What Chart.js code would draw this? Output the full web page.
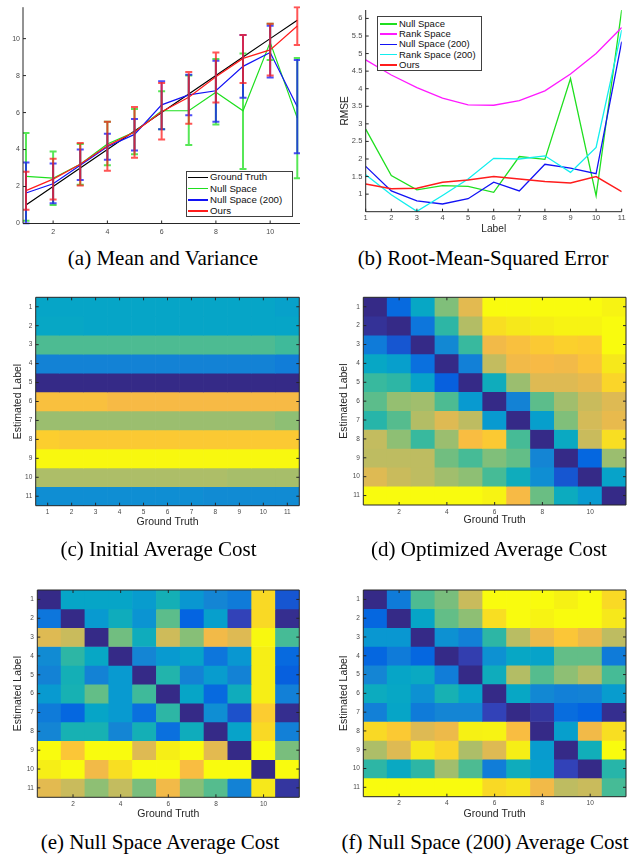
<!DOCTYPE html>
<html>
<head>
<meta charset="utf-8">
<title>Label estimation results</title>
<script src="https://cdn.jsdelivr.net/npm/chart.js@4.4.1/dist/chart.umd.min.js"></script>
<style>
  body { margin: 0; background: #fff; }
  #page { position: relative; width: 639px; height: 854px; overflow: hidden; font-family: "Liberation Sans", Arial, sans-serif; }
  canvas { position: absolute; }
  .caption { position: absolute; font-family: "Liberation Serif", "Times New Roman", serif; font-size: 21px; line-height: 21px; white-space: nowrap; color: #000; transform: translateX(-50%); }
  .legend { position: absolute; box-sizing: border-box; background: #fff; border: 1px solid #404040; color: #111; }
  .legend .item { position: absolute; white-space: nowrap; line-height: 1; transform: translateY(-50%); }
  .legend .swatch { position: absolute; height: 1.6px; }
</style>
</head>
<body>
<div id="page">
  <canvas id="chartA"></canvas>
  <canvas id="chartB"></canvas>
  <canvas id="chartC"></canvas>
  <canvas id="chartD"></canvas>
  <canvas id="chartE"></canvas>
  <canvas id="chartF"></canvas>

  <div class="legend" id="legendA" style="left:186px; top:171px; width:107px; height:46px; font-size:9.7px"></div>
  <div class="legend" id="legendB" style="left:377px; top:16px; width:105px; height:55px; font-size:9.5px"></div>

  <div class="caption" style="left:163px; top:247.7px">(a) Mean and Variance</div>
  <div class="caption" style="left:483px; top:247.7px">(b) Root-Mean-Squared Error</div>
  <div class="caption" style="left:158.5px; top:539.4px">(c) Initial Average Cost</div>
  <div class="caption" style="left:489px; top:539.4px">(d) Optimized Average Cost</div>
  <div class="caption" style="left:160px; top:832px">(e) Null Space Average Cost</div>
  <div class="caption" style="left:485px; top:832px">(f) Null Space (200) Average Cost</div>
</div>

<script>
// ---- data ----
const labels = [1, 2, 3, 4, 5, 6, 7, 8, 9, 10, 11];

// (a) mean and variance
const aXTicks = [2, 4, 6, 8, 10];
const aYTicks = [0, 2, 4, 6, 8, 10];
const groundTruth = [1, 2, 3, 4, 5, 6, 7, 8, 9, 10, 11];
const nullMean = [2.55, 2.45, 3.2, 4.3, 4.95, 6.1, 6.1, 7.1, 6.1, 9.8, 5.7];
const nullLow  = [0.15, 1.0, 2.1, 3.15, 3.75, 5.1, 4.25, 5.35, 2.95, 8.85, 2.45];
const nullHigh = [4.9, 3.9, 4.3, 5.5, 6.2, 7.15, 8.0, 8.9, 9.2, 10.8, 8.95];
const null200Mean = [1.65, 2.15, 3.15, 4.15, 4.82, 6.42, 6.96, 7.18, 8.5, 9.25, 6.32];
const null200Low  = [0.0, 1.1, 2.35, 3.45, 3.95, 5.1, 5.85, 5.5, 6.8, 7.9, 3.8];
const null200High = [3.3, 3.25, 4.0, 4.85, 5.65, 7.7, 8.05, 8.8, 10.2, 10.7, 8.85];
const oursMean = [1.78, 2.4, 3.2, 4.2, 4.95, 6.05, 6.83, 7.94, 8.93, 9.39, 10.68];
const oursLow  = [0.75, 1.3, 2.05, 2.85, 3.55, 4.55, 5.4, 6.55, 7.6, 8.0, 9.65];
const oursHigh = [2.8, 3.5, 4.35, 5.5, 6.3, 7.6, 8.2, 9.25, 10.2, 10.8, 11.7];

// (b) RMSE per label
const bYTicks = [1, 1.5, 2, 2.5, 3, 3.5, 4, 4.5, 5, 5.5, 6];
const rmseNull     = [2.85, 1.53, 1.12, 1.24, 1.22, 1.05, 2.07, 1.99, 4.29, 0.95, 6.24];
const rmseRank     = [4.82, 4.39, 4.03, 3.73, 3.54, 3.53, 3.66, 3.94, 4.42, 5.0, 5.74];
const rmseNull200  = [1.79, 1.09, 0.81, 0.72, 0.87, 1.34, 1.09, 1.85, 1.74, 1.58, 5.34];
const rmseRank200  = [1.55, 0.98, 0.51, 0.96, 1.43, 2.02, 2.0, 2.09, 1.62, 2.33, 5.67];
const rmseOurs     = [1.29, 1.15, 1.17, 1.34, 1.4, 1.5, 1.43, 1.36, 1.32, 1.5, 1.07];

// (c)-(f) normalised average cost, rows = estimated label, columns = ground truth
const heatXTicksAll = [1, 2, 3, 4, 5, 6, 7, 8, 9, 10, 11];
const heatXTicksEven = [2, 4, 6, 8, 10];
const heatYTicks = [1, 2, 3, 4, 5, 6, 7, 8, 9, 10, 11];

const costInitial = [
  [0.37, 0.37, 0.37, 0.37, 0.37, 0.37, 0.37, 0.37, 0.37, 0.37, 0.35],
  [0.38, 0.38, 0.37, 0.37, 0.37, 0.37, 0.37, 0.37, 0.37, 0.37, 0.37],
  [0.53, 0.53, 0.53, 0.53, 0.53, 0.53, 0.53, 0.53, 0.53, 0.53, 0.51],
  [0.24, 0.24, 0.24, 0.24, 0.24, 0.24, 0.24, 0.24, 0.24, 0.24, 0.22],
  [0.0, 0.0, 0.0, 0.0, 0.0, 0.0, 0.0, 0.0, 0.0, 0.0, 0.0],
  [0.83, 0.83, 0.83, 0.81, 0.81, 0.81, 0.81, 0.81, 0.81, 0.81, 0.81],
  [0.64, 0.64, 0.64, 0.64, 0.64, 0.64, 0.64, 0.64, 0.64, 0.64, 0.62],
  [0.875, 0.86, 0.86, 0.86, 0.86, 0.86, 0.86, 0.86, 0.86, 0.86, 0.86],
  [0.99, 0.99, 0.99, 0.99, 0.99, 0.99, 0.99, 0.99, 0.99, 0.99, 0.99],
  [0.67, 0.67, 0.67, 0.67, 0.67, 0.67, 0.67, 0.67, 0.66, 0.66, 0.66],
  [0.28, 0.28, 0.28, 0.28, 0.28, 0.28, 0.28, 0.27, 0.27, 0.27, 0.27]
];

const costOptimized = [
  [0.0, 0.15, 0.38, 0.6, 0.77, 1.0, 1.0, 1.0, 1.0, 1.0, 0.97],
  [0.02, 0.0, 0.19, 0.48, 0.68, 0.91, 0.93, 0.95, 0.97, 0.97, 1.0],
  [0.21, 0.1, 0.0, 0.26, 0.5, 0.8, 0.83, 0.86, 0.88, 0.87, 1.0],
  [0.38, 0.34, 0.17, 0.0, 0.23, 0.71, 0.8, 0.81, 0.8, 0.84, 0.93],
  [0.5, 0.48, 0.36, 0.12, 0.0, 0.41, 0.64, 0.76, 0.76, 0.78, 0.89],
  [0.55, 0.63, 0.65, 0.53, 0.32, 0.0, 0.24, 0.55, 0.65, 0.72, 0.76],
  [0.47, 0.54, 0.68, 0.76, 0.7, 0.32, 0.0, 0.34, 0.6, 0.74, 0.78],
  [0.71, 0.62, 0.5, 0.64, 0.82, 0.86, 0.52, 0.0, 0.39, 0.72, 0.91],
  [0.7, 0.7, 0.7, 0.58, 0.52, 0.6, 0.56, 0.25, 0.0, 0.14, 0.64],
  [0.76, 0.72, 0.7, 0.65, 0.62, 0.52, 0.41, 0.28, 0.1, 0.0, 0.36],
  [1.0, 1.0, 1.0, 1.0, 1.0, 0.97, 0.81, 0.57, 0.4, 0.32, 0.0]
];

const costNull = [
  [0.0, 0.37, 0.37, 0.37, 0.33, 0.43, 0.31, 0.25, 0.21, 0.9, 0.1],
  [0.19, 0.0, 0.32, 0.41, 0.3, 0.55, 0.13, 0.34, 0.06, 0.9, 0.01],
  [0.76, 0.72, 0.0, 0.58, 0.41, 0.73, 0.61, 0.8, 0.76, 0.99, 0.52],
  [0.27, 0.48, 0.38, 0.0, 0.25, 0.32, 0.36, 0.19, 0.31, 0.95, 0.15],
  [0.24, 0.43, 0.24, 0.32, 0.0, 0.46, 0.24, 0.33, 0.24, 0.95, 0.12],
  [0.32, 0.44, 0.56, 0.32, 0.51, 0.0, 0.37, 0.15, 0.41, 0.95, 0.23],
  [0.21, 0.14, 0.37, 0.32, 0.17, 0.48, 0.0, 0.28, 0.09, 0.87, 0.01],
  [0.25, 0.44, 0.44, 0.25, 0.43, 0.17, 0.41, 0.0, 0.36, 0.9, 0.23],
  [1.0, 0.85, 1.0, 1.0, 0.76, 0.95, 1.0, 0.77, 0.0, 1.0, 0.59],
  [0.95, 1.0, 0.8, 0.91, 1.0, 1.0, 0.82, 1.0, 1.0, 0.0, 1.0],
  [0.77, 0.72, 0.62, 0.71, 0.59, 0.8, 0.61, 0.54, 0.24, 0.93, 0.03]
];

const costNull200 = [
  [0.0, 0.21, 0.53, 0.59, 0.72, 1.0, 1.0, 1.0, 0.96, 1.0, 0.9],
  [0.14, 0.0, 0.37, 0.56, 0.62, 0.91, 1.0, 0.97, 1.0, 1.0, 0.93],
  [0.31, 0.31, 0.0, 0.29, 0.23, 0.48, 0.69, 0.79, 0.85, 0.79, 0.7],
  [0.14, 0.21, 0.14, 0.0, 0.05, 0.29, 0.38, 0.36, 0.56, 0.56, 0.21],
  [0.25, 0.37, 0.39, 0.22, 0.0, 0.41, 0.68, 0.54, 0.62, 0.68, 0.52],
  [0.4, 0.38, 0.29, 0.44, 0.36, 0.0, 0.38, 0.26, 0.23, 0.24, 0.33],
  [0.23, 0.37, 0.21, 0.25, 0.25, 0.06, 0.0, 0.03, 0.16, 0.13, 0.01],
  [0.9, 0.86, 0.76, 0.79, 0.96, 0.97, 0.82, 0.0, 0.34, 0.8, 0.91],
  [0.67, 0.76, 0.93, 0.89, 0.67, 0.76, 0.95, 0.33, 0.0, 0.42, 1.0],
  [0.48, 0.39, 0.48, 0.65, 0.53, 0.22, 0.41, 0.34, 0.06, 0.0, 0.47],
  [1.0, 1.0, 1.0, 1.0, 1.0, 0.9, 0.92, 0.8, 0.7, 0.72, 0.52]
];

// ---- styling ----
const green = '#1fdf1f', blue = '#1212f5', red = '#ff1c1c', magenta = '#ff1aff', cyan = '#12eeee';
const axisColor = '#262626', tickColor = '#4a4a4a';

// parula colour map (subsampled)
const parulaStops = [
  [0.2081, 0.1663, 0.5292], [0.1959, 0.2645, 0.7279], [0.0117, 0.3875, 0.8820],
  [0.0498, 0.4586, 0.8641], [0.0793, 0.5200, 0.8312], [0.0343, 0.5966, 0.8199],
  [0.0228, 0.6535, 0.7768], [0.0843, 0.6928, 0.7062], [0.2178, 0.7250, 0.6193],
  [0.3953, 0.7459, 0.5244], [0.5709, 0.7485, 0.4494], [0.7184, 0.7411, 0.3905],
  [0.8507, 0.7299, 0.3360], [0.9739, 0.7314, 0.2666], [0.9880, 0.8066, 0.1794],
  [0.9598, 0.9218, 0.0948], [0.9763, 0.9831, 0.0538]
];
function parula(t) {
  const n = parulaStops.length - 1;
  const p = Math.min(Math.max(t, 0), 1) * n;
  const i = Math.min(Math.floor(p), n - 1);
  const f = p - i;
  const c = parulaStops[i].map((v, k) => Math.round(255 * (v + (parulaStops[i + 1][k] - v) * f)));
  return 'rgb(' + c.join(',') + ')';
}

Chart.defaults.font.family = '"Liberation Sans", Arial, sans-serif';

// MATLAB style axes: inward ticks, box or just left/bottom spine
const matlabAxes = {
  id: 'matlabAxes',
  afterDraw(chart, args, opts) {
    const { ctx, chartArea: a, scales: { x, y } } = chart;
    const L = 3;
    ctx.save();
    ctx.strokeStyle = axisColor;
    ctx.lineWidth = 1;
    ctx.beginPath();
    if (opts.box) {
      ctx.rect(a.left, a.top, a.right - a.left, a.bottom - a.top);
    } else {
      ctx.moveTo(a.left, a.top);
      ctx.lineTo(a.left, a.bottom);
      ctx.lineTo(a.right, a.bottom);
    }
    x.ticks.forEach((t, i) => {
      if (t.label === '') return;
      const px = x.getPixelForTick(i);
      ctx.moveTo(px, a.bottom); ctx.lineTo(px, a.bottom - L);
      if (opts.box) { ctx.moveTo(px, a.top); ctx.lineTo(px, a.top + L); }
    });
    y.ticks.forEach((t, i) => {
      const py = y.getPixelForTick(i);
      ctx.moveTo(a.left, py); ctx.lineTo(a.left + L, py);
      if (opts.box) { ctx.moveTo(a.right, py); ctx.lineTo(a.right - L, py); }
    });
    ctx.stroke();
    ctx.restore();
  }
};

// vertical error bars with caps, read from errLow / errHigh on each dataset
const errorBars = {
  id: 'errorBars',
  afterDatasetsDraw(chart) {
    const { ctx, chartArea: a, scales: { x, y } } = chart;
    ctx.save();
    ctx.beginPath();
    ctx.rect(a.left, a.top - 1, a.right - a.left, a.bottom - a.top + 2);
    ctx.clip();
    chart.data.datasets.forEach(ds => {
      if (!ds.errLow) return;
      ctx.strokeStyle = ds.borderColor;
      ctx.globalAlpha = 0.75;
      ctx.lineWidth = 2;
      ds.errLow.forEach((lo, i) => {
        const px = x.getPixelForValue(labels[i]);
        const y0 = y.getPixelForValue(lo);
        const y1 = y.getPixelForValue(ds.errHigh[i]);
        ctx.beginPath();
        ctx.moveTo(px, y0); ctx.lineTo(px, y1);
        ctx.moveTo(px - 3.5, y0); ctx.lineTo(px + 3.5, y0);
        ctx.moveTo(px - 3.5, y1); ctx.lineTo(px + 3.5, y1);
        ctx.stroke();
      });
    });
    ctx.restore();
  }
};

// g: canvas box (x, y, w, h), plot area (L, T, R, B), axis title centres (tx, ty)
function build(id, g, cfg) {
  const cv = document.getElementById(id);
  cv.width = g.w; cv.height = g.h;
  cv.style.left = g.x + 'px'; cv.style.top = g.y + 'px';
  const titleSize = g.titleSize || 10.5;
  const lh = titleSize * 1.2;
  const sx = cfg.options.scales.x, sy = cfg.options.scales.y;
  sx.afterFit = s => { s.height = g.y + g.h - g.B; };
  sy.afterFit = s => { s.width = g.L - g.x; };
  [sx, sy].forEach(s => {
    s.grid = { display: false, drawTicks: false };
    s.border = { display: false };
    s.ticks.color = tickColor;
  });
  if (sx.title) Object.assign(sx.title, { display: true, color: axisColor, font: { size: titleSize }, padding: { top: 0, bottom: g.y + g.h - g.ty - lh / 2 } });
  if (sy.title) Object.assign(sy.title, { display: true, color: axisColor, font: { size: titleSize }, padding: { top: g.tx - g.x - lh / 2, bottom: 0 } });
  Object.assign(cfg.options, {
    responsive: false,
    animation: false,
    devicePixelRatio: 1,
    events: [],
    layout: { padding: { left: 0, top: g.T - g.y, right: g.x + g.w - g.R, bottom: 0 } }
  });
  cfg.options.plugins = Object.assign({ legend: { display: false }, tooltip: { enabled: false } }, cfg.options.plugins);
  cfg.plugins = (cfg.plugins || []).concat([matlabAxes]);
  return new Chart(cv, cfg);
}

function series(vals) { return labels.map((x, i) => ({ x: x, y: vals[i] })); }

// ---- (a) ----
build('chartA', { x: 0, y: 0, w: 310, h: 245, L: 23, T: 6, R: 300, B: 223.5 }, {
  type: 'line',
  data: {
    datasets: [
      { label: 'Ground Truth', data: series(groundTruth), borderColor: '#000', order: 4 },
      { label: 'Null Space', data: series(nullMean), borderColor: green, errLow: nullLow, errHigh: nullHigh, order: 3 },
      { label: 'Null Space (200)', data: series(null200Mean), borderColor: blue, errLow: null200Low, errHigh: null200High, order: 2 },
      { label: 'Ours', data: series(oursMean), borderColor: red, errLow: oursLow, errHigh: oursHigh, order: 1 }
    ]
  },
  options: {
    elements: { line: { borderWidth: 1.2, tension: 0 }, point: { radius: 0 } },
    scales: {
      x: { type: 'linear', min: 0.89, max: 11.1,
           afterBuildTicks: s => { s.ticks = aXTicks.map(v => ({ value: v })); },
           ticks: { font: { size: 7 }, padding: 4, maxRotation: 0 } },
      y: { type: 'linear', min: 0, max: 11.7,
           afterBuildTicks: s => { s.ticks = aYTicks.map(v => ({ value: v })); },
           ticks: { font: { size: 7 }, padding: 3 } }
    },
    plugins: { matlabAxes: { box: false } }
  },
  plugins: [errorBars]
});

// ---- (b) ----
build('chartB', { x: 320, y: 0, w: 315, h: 245, L: 365.7, T: 10, R: 621.7, B: 211.7, tx: 345, ty: 229, titleSize: 10.2 }, {
  type: 'line',
  data: {
    datasets: [
      { label: 'Null Space', data: series(rmseNull), borderColor: green, order: 5 },
      { label: 'Rank Space', data: series(rmseRank), borderColor: magenta, order: 4 },
      { label: 'Null Space (200)', data: series(rmseNull200), borderColor: blue, order: 3 },
      { label: 'Rank Space (200)', data: series(rmseRank200), borderColor: cyan, order: 2 },
      { label: 'Ours', data: series(rmseOurs), borderColor: red, borderWidth: 1.5, order: 1 }
    ]
  },
  options: {
    elements: { line: { borderWidth: 1.3, tension: 0 }, point: { radius: 0 } },
    scales: {
      x: { type: 'linear', min: 1, max: 11,
           afterBuildTicks: s => { s.ticks = labels.map(v => ({ value: v })); },
           ticks: { font: { size: 7.5 }, padding: 2, maxRotation: 0 },
           title: { text: 'Label' } },
      y: { type: 'linear', min: 0.5, max: 6.24,
           afterBuildTicks: s => { s.ticks = bYTicks.map(v => ({ value: v })); },
           ticks: { font: { size: 7.5 }, padding: 3.4, callback: v => String(v) },
           title: { text: 'RMSE' } }
    },
    plugins: { matlabAxes: { box: false } }
  }
});

// ---- heatmaps ----
function heatmap(id, g, matrix, xTicks) {
  const datasets = matrix.map((row, r) => ({
    data: row.map(() => [r + 0.5, r + 1.5]),
    backgroundColor: row.map(parula),
    borderWidth: 0,
    grouped: false,
    barPercentage: 1,
    categoryPercentage: 1
  }));
  return build(id, g, {
    type: 'bar',
    data: { labels: labels.map(String), datasets: datasets },
    options: {
      scales: {
        x: { type: 'category',
             ticks: { font: { size: 6.5 }, padding: 3, autoSkip: false, maxRotation: 0,
                      callback: (v, i) => xTicks.includes(i + 1) ? String(i + 1) : '' },
             title: { text: 'Ground Truth' } },
        y: { type: 'linear', reverse: true, min: 0.5, max: 11.5,
             afterBuildTicks: s => { s.ticks = heatYTicks.map(v => ({ value: v })); },
             ticks: { font: { size: 6.5 }, padding: 3.4 },
             title: { text: 'Estimated Label' } }
      },
      plugins: { matlabAxes: { box: true } }
    }
  });
}

heatmap('chartC', { x: 0, y: 290, w: 310, h: 250, L: 35.7, T: 297.3, R: 299.3, B: 505.7, tx: 18, ty: 522.3 }, costInitial, heatXTicksAll);
heatmap('chartD', { x: 320, y: 290, w: 315, h: 250, L: 363.3, T: 296.7, R: 626, B: 505, tx: 344.5, ty: 520 }, costOptimized, heatXTicksEven);
heatmap('chartE', { x: 0, y: 580, w: 310, h: 250, L: 37.3, T: 590, R: 299.3, B: 797.3, tx: 18, ty: 814 }, costNull, heatXTicksEven);
heatmap('chartF', { x: 320, y: 580, w: 315, h: 250, L: 363.3, T: 590, R: 626, B: 796.7, tx: 344.5, ty: 814 }, costNull200, heatXTicksEven);

// ---- legends ----
function fillLegend(id, names, colors, first, step, lineFrom, lineTo, textX) {
  const box = document.getElementById(id);
  names.forEach((n, i) => {
    const cy = first + i * step;
    const sw = document.createElement('div');
    sw.className = 'swatch';
    sw.style.left = lineFrom + 'px';
    sw.style.width = (lineTo - lineFrom) + 'px';
    sw.style.top = (cy - 0.8) + 'px';
    sw.style.backgroundColor = colors[i];
    const t = document.createElement('div');
    t.className = 'item';
    t.textContent = n;
    t.style.left = textX + 'px';
    t.style.top = cy + 'px';
    box.append(sw, t);
  });
}
fillLegend('legendA', ['Ground Truth', 'Null Space', 'Null Space (200)', 'Ours'], ['#000', green, blue, red], 5.3, 11.33, 1, 21, 23);
fillLegend('legendB', ['Null Space', 'Rank Space', 'Null Space (200)', 'Rank Space (200)', 'Ours'], [green, magenta, blue, cyan, red], 7, 10.2, 2, 19, 21);
</script>
</body>
</html>
